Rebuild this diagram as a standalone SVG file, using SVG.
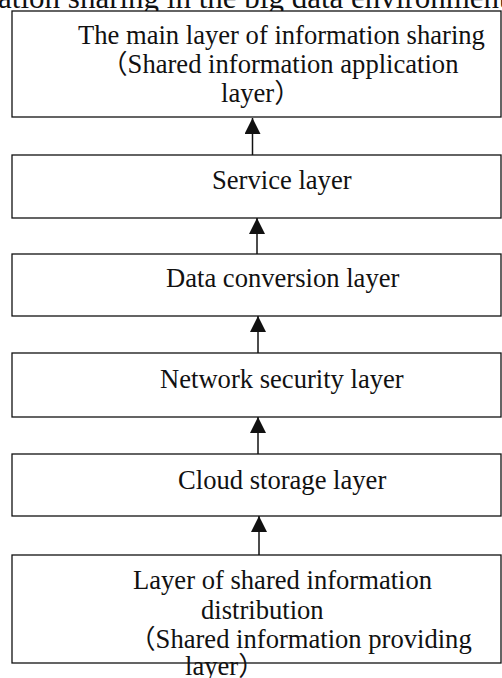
<svg xmlns="http://www.w3.org/2000/svg" width="502" height="678" viewBox="0 0 502 678">
  <style>
    .box { fill: #ffffff; stroke: #111111; stroke-width: 1.3; }
    .lbl { font-family: "Liberation Serif", "Noto Sans CJK SC", serif; font-size: 26.6px; fill: #111111; }
    .title { font-family: "Liberation Serif", "Noto Sans CJK SC", serif; font-size: 31px; fill: #111111; }
    .conn { stroke: #111111; stroke-width: 1.5; fill: none; marker-end: url(#head); }
  </style>
  <defs>
    <marker id="head" markerUnits="userSpaceOnUse" markerWidth="16" markerHeight="18" viewBox="0 0 16 18" refX="16" refY="8" orient="auto">
      <path d="M0,0 L16,8 L0,16 Z" fill="#111111"/>
    </marker>
  </defs>
  <rect width="502" height="678" fill="#ffffff"/>

  <!-- heading, partly above the top edge -->
  <text class="title" x="-88" y="8">Information sharing in the big data environment</text>

  <!-- connectors: each layer feeds the layer above -->
  <g id="connectors">
    <line class="conn" x1="252.5" y1="155" x2="252.5" y2="118"/>
    <line class="conn" x1="257" y1="254" x2="257" y2="218"/>
    <line class="conn" x1="258" y1="353" x2="258" y2="316"/>
    <line class="conn" x1="258" y1="454" x2="258" y2="417"/>
    <line class="conn" x1="259" y1="555" x2="259" y2="516"/>
  </g>

  <g id="main-layer">
    <rect class="box" x="12" y="11" width="489" height="106"/>
    <text class="lbl" x="78" y="43.5">The main layer of information sharing</text>
    <text class="lbl" x="101" y="73">（Shared information application</text>
    <text class="lbl" x="221" y="102">layer）</text>
  </g>

  <g id="service-layer">
    <rect class="box" x="12" y="155" width="489" height="63"/>
    <text class="lbl" x="212" y="189">Service layer</text>
  </g>

  <g id="data-conversion-layer">
    <rect class="box" x="12" y="254" width="489" height="62"/>
    <text class="lbl" x="166" y="287">Data conversion layer</text>
  </g>

  <g id="network-security-layer">
    <rect class="box" x="12" y="353" width="489" height="64"/>
    <text class="lbl" x="160" y="388">Network security layer</text>
  </g>

  <g id="cloud-storage-layer">
    <rect class="box" x="12" y="454" width="489" height="62"/>
    <text class="lbl" x="178" y="489">Cloud storage layer</text>
  </g>

  <g id="distribution-layer">
    <rect class="box" x="12" y="555" width="489" height="108"/>
    <text class="lbl" x="133" y="589">Layer of shared information</text>
    <text class="lbl" x="201" y="619">distribution</text>
    <text class="lbl" x="129" y="648">（Shared information providing</text>
    <text class="lbl" x="185" y="675">layer）</text>
  </g>
</svg>
